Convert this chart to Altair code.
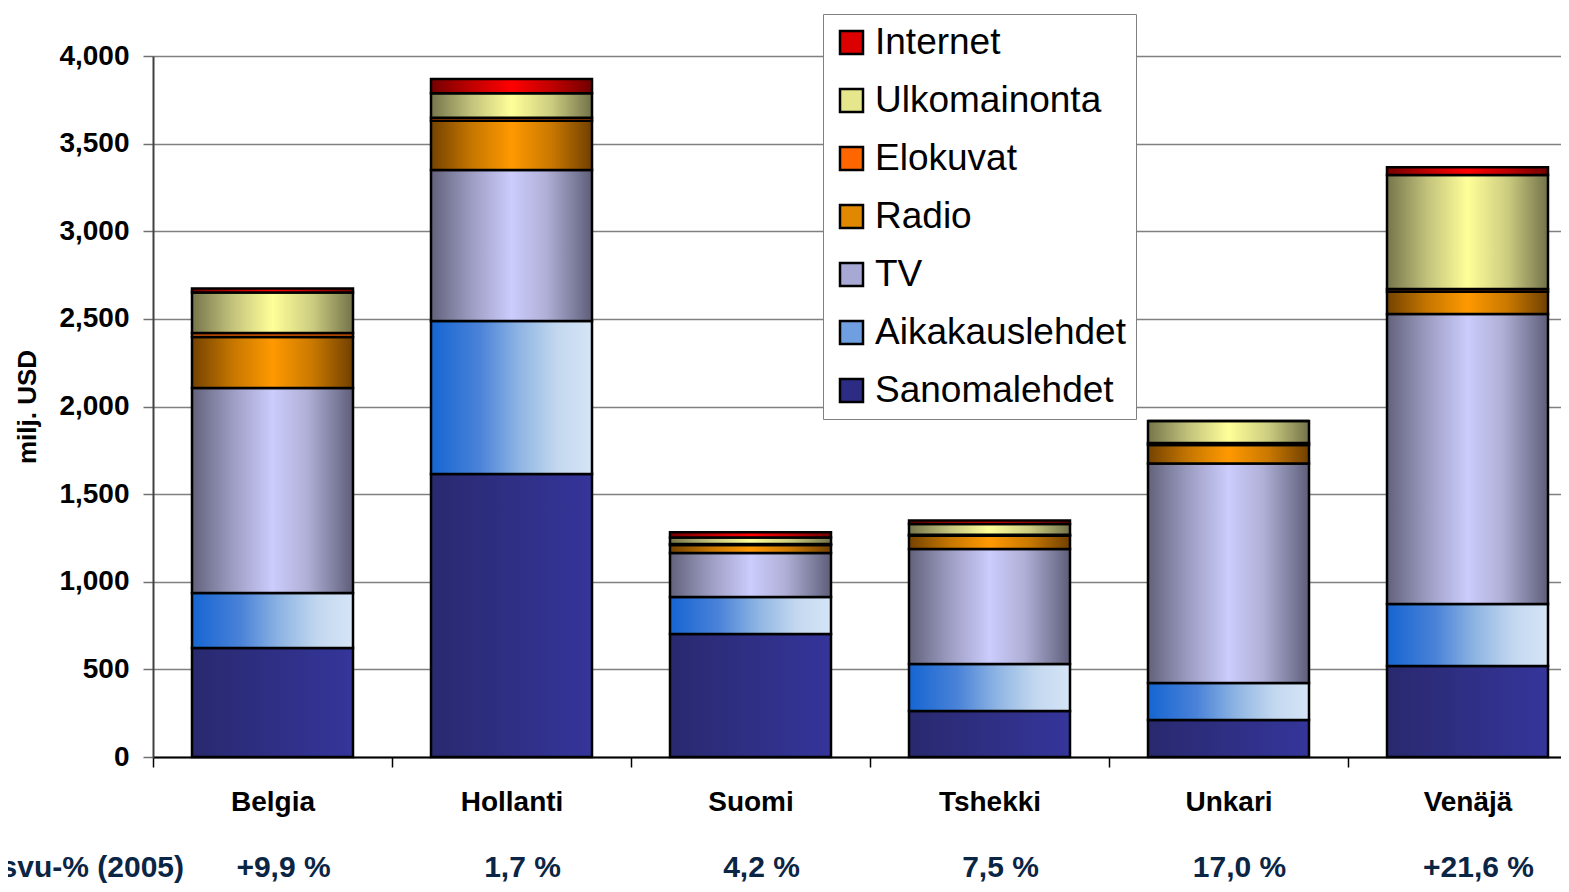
import altair as alt
import pandas as pd

countries = ["Belgia", "Hollanti", "Suomi", "Tshekki", "Unkari", "Venäjä"]
series = ["Sanomalehdet", "Aikakauslehdet", "TV", "Radio", "Elokuvat", "Ulkomainonta", "Internet"]

sanomalehdet   = [622, 1615, 702, 262, 211, 519]
aikakauslehdet = [314, 873, 211, 269, 211, 354]
tv             = [1170, 862, 251, 656, 1253, 1655]
radio          = [291, 281, 46, 76, 105, 127]
elokuvat       = [22, 17, 5, 5, 12, 15]
ulkomainonta   = [232, 139, 37, 62, 125, 651]
internet       = [23, 82, 31, 19, 0, 44]

growth_title = "Kasvu-% (2005)"
growth = ["+9,9 %", "1,7 %", "4,2 %", "7,5 %", "17,0 %", "+21,6 %"]

values = [sanomalehdet, aikakauslehdet, tv, radio, elokuvat, ulkomainonta, internet]

rows = []
for ci, c in enumerate(countries):
    base = 0
    for si, s in enumerate(series):
        v = values[si][ci]
        rows.append({"Country": c, "Series": s, "value": v, "y0": base, "y1": base + v})
        base += v
df = pd.DataFrame(rows)

stops = {
    "Sanomalehdet": [(0, "#29296f"), (0.5, "#2f2f85"), (1, "#35359b")],
    "Aikakauslehdet": [(0, "#1565d2"), (0.3, "#4a82d8"), (0.55, "#8fb5e3"), (0.78, "#c2d7ef"), (1, "#d6e5f7")],
    "TV": [(0, "#62627c"), (0.25, "#9c9cc2"), (0.5, "#ccccfd"), (0.72, "#afafd6"), (1, "#5e5e7a")],
    "Radio": [(0, "#744200"), (0.25, "#c57600"), (0.5, "#ff9900"), (0.75, "#c97800"), (1, "#704000")],
    "Elokuvat": [(0, "#e05800"), (0.5, "#ff6600"), (1, "#e05800")],
    "Ulkomainonta": [(0, "#75754b"), (0.25, "#c2c27c"), (0.5, "#ffff99"), (0.75, "#cccc80"), (1, "#72724a")],
    "Internet": [(0, "#760000"), (0.25, "#c00000"), (0.5, "#ff0000"), (0.75, "#c00000"), (1, "#720000")],
}
legend_colors = {
    "Sanomalehdet": "#2c2c84",
    "Aikakauslehdet": "#6f9fe0",
    "TV": "#a8a8d4",
    "Radio": "#e08800",
    "Elokuvat": "#ff6600",
    "Ulkomainonta": "#e6e68c",
    "Internet": "#dd0000",
}


def grad(s):
    return alt.Gradient(
        gradient="linear", x1=0, x2=1, y1=0, y2=0,
        stops=[alt.GradientStop(offset=o, color=c) for o, c in stops[s]],
    )


legend_order = list(reversed(series))

FONT = "Liberation Sans"

x_enc = alt.X(
    "Country:N", sort=countries, title=None,
    scale=alt.Scale(domain=countries, range=[0, 1434], paddingInner=0, paddingOuter=0),
    axis=alt.Axis(
        labelAngle=0, labelFontSize=28, labelFontWeight="bold", labelColor="black",
        labelFont=FONT, labelPadding=21, tickSize=10, tickBand="extent",
        tickColor="black", tickWidth=1.5, domainColor="black", domainWidth=2, grid=False,
    ),
)

layers = []
for s in series:
    layers.append(
        alt.Chart(df)
        .transform_filter(alt.datum.Series == s)
        .mark_bar(width=161, color=grad(s), stroke="black", strokeWidth=2.5)
        .encode(
            x=x_enc,
            y=alt.Y(
                "y0:Q", title="milj. USD",
                scale=alt.Scale(domain=[0, 4000], nice=False),
                axis=alt.Axis(
                    values=list(range(0, 4001, 500)), format=",d",
                    labelFontSize=28, labelFontWeight="bold", labelColor="black", labelFont=FONT,
                    labelPadding=14, tickSize=10, tickColor="#707070", tickWidth=1.5,
                    domainColor="#404040", domainWidth=2,
                    grid=True, gridColor="#808080", gridWidth=1.5,
                    titleFontSize=26, titleFontWeight="bold", titleFont=FONT, titleColor="black",
                    titlePadding=18,
                ),
            ),
            y2="y1:Q",
        )
    )

legend_layer = (
    alt.Chart(df)
    .mark_square(opacity=0, size=10)
    .encode(
        x=alt.X("Country:N", sort=countries),
        y=alt.Y("y1:Q"),
        color=alt.Color(
            "Series:N",
            scale=alt.Scale(domain=legend_order, range=[legend_colors[s] for s in legend_order]),
            legend=alt.Legend(
                title=None, orient="none", legendX=670, legendY=-42,
                direction="vertical",
                fillColor="white", strokeColor="#808080", padding=10,
                symbolType="square", symbolSize=529, symbolOpacity=1,
                symbolStrokeColor="black", symbolStrokeWidth=2.5,
                labelFontSize=37, labelFont=FONT, labelColor="black",
                labelOffset=5, rowPadding=20, labelLimit=400,
            ),
        ),
    )
)

gdf = pd.DataFrame({"Country": countries, "g": growth})
growth_layer = (
    alt.Chart(gdf)
    .mark_text(fontSize=30, fontWeight="bold", font=FONT, color="#0b2545",
               baseline="alphabetic", dx=11)
    .encode(x=alt.X("Country:N", sort=countries), y=alt.value(821), text="g:N")
)
title_layer = (
    alt.Chart(pd.DataFrame({"t": [growth_title]}))
    .mark_text(fontSize=30, fontWeight="bold", font=FONT, color="#0b2545",
               baseline="alphabetic", align="right")
    .encode(x=alt.value(31), y=alt.value(821), text="t:N")
)

chart = (
    alt.layer(*layers, legend_layer, growth_layer, title_layer)
    .properties(
        width=1408, height=701,
        autosize=alt.AutoSizeParams(type="none"),
        padding={"left": 145, "top": 48, "right": 0, "bottom": 127},
        background="white",
    )
    .configure_view(stroke=None)
)

chart.save("out.html", embed_options={"renderer": "svg", "actions": False})
